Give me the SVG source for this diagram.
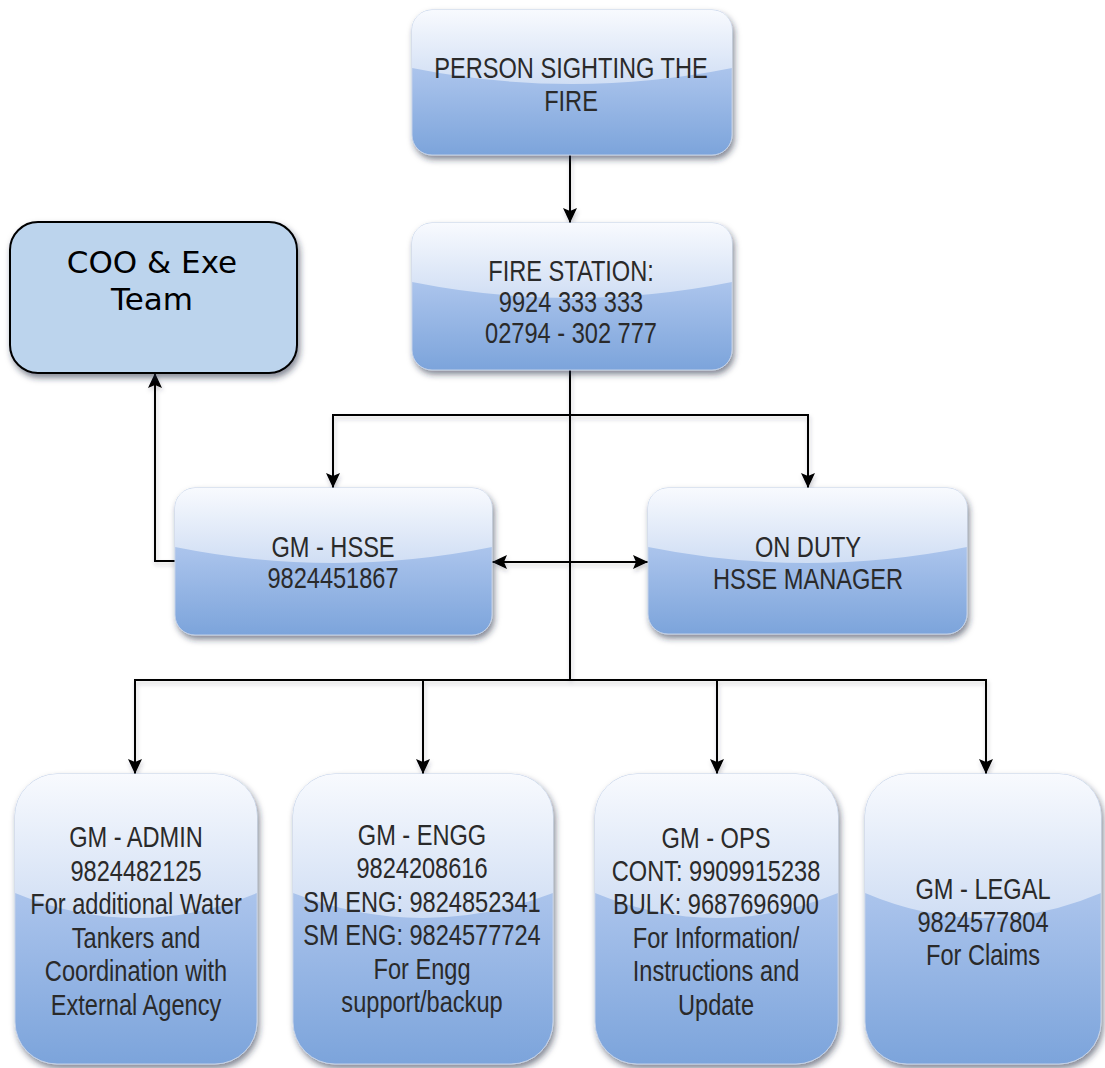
<svg xmlns="http://www.w3.org/2000/svg" width="1105" height="1068" viewBox="0 0 1105 1068">
  <defs>
    <style>
      .lbl { font-family: "Liberation Sans", Arial, sans-serif; font-size: 29.5px; fill: #2a2a2a; text-anchor: middle; }
      .coo { font-family: "DejaVu Sans", Verdana, sans-serif; font-size: 31px; fill: #000; text-anchor: middle; }
      .base { fill: url(#base); stroke: #c3d1e8; stroke-width: 1; filter: url(#shadow); }
      .gloss { fill: url(#gloss); }
      .wire { fill: none; stroke: #000; stroke-width: 2; }
      .arrow { marker-end: url(#head); }
    </style>
    <linearGradient id="base" x1="0" y1="0" x2="0" y2="1">
      <stop offset="0" stop-color="#c4d7f2"/>
      <stop offset="0.45" stop-color="#a8c2eb"/>
      <stop offset="1" stop-color="#7ca4db"/>
    </linearGradient>
    <linearGradient id="gloss" x1="0" y1="0" x2="0" y2="1">
      <stop offset="0" stop-color="#f8fafe"/>
      <stop offset="1" stop-color="#d0def4"/>
    </linearGradient>
    <filter id="shadow" x="-10%" y="-10%" width="125%" height="130%">
      <feDropShadow dx="2" dy="4" stdDeviation="3" flood-color="#1a2540" flood-opacity="0.55"/>
    </filter>
    <filter id="wireShadow" x="-5%" y="-5%" width="110%" height="120%">
      <feDropShadow dx="1" dy="3" stdDeviation="2" flood-color="#334" flood-opacity="0.25"/>
    </filter>
    <marker id="head" markerUnits="userSpaceOnUse" markerWidth="16" markerHeight="14" refX="15" refY="7" orient="auto">
      <path d="M0,0 L15,7 L0,14 L3,7 Z" fill="#000"/>
    </marker>
    <marker id="tail" markerUnits="userSpaceOnUse" markerWidth="16" markerHeight="14" refX="0" refY="7" orient="auto">
      <path d="M15,0 L0,7 L15,14 L12,7 Z" fill="#000"/>
    </marker>
  </defs>

  <rect width="1105" height="1068" fill="#fff"/>

  <!-- connectors -->
  <g id="connectors" filter="url(#wireShadow)">
    <path class="wire arrow" d="M570,155 V223"/>
    <path class="wire" d="M570,370 V680"/>
    <path class="wire arrow" d="M570,415 H333 V488"/>
    <path class="wire arrow" d="M570,415 H808 V488"/>
    <path class="wire" d="M492,562 H648" marker-start="url(#tail)" marker-end="url(#head)"/>
    <path class="wire arrow" d="M175,561 H155 V373"/>
    <path class="wire arrow" d="M570,680 H135 V774"/>
    <path class="wire arrow" d="M423,680 V774"/>
    <path class="wire arrow" d="M717,680 V774"/>
    <path class="wire arrow" d="M570,680 H986 V774"/>
  </g>

  <!-- top: person sighting the fire -->
  <g id="person">
    <rect class="base" x="412" y="10" width="320" height="145" rx="20"/>
    <path class="gloss" d="M412,30 A20,20 0 0 1 432,10 H712 A20,20 0 0 1 732,30 V68 Q572,100 412,68 Z"/>
    <text class="lbl" transform="translate(571 0) scale(0.8 1)"><tspan x="0" y="78">PERSON SIGHTING THE</tspan><tspan x="0" y="111">FIRE</tspan></text>
  </g>

  <!-- fire station -->
  <g id="fire-station">
    <rect class="base" x="412" y="223" width="320" height="147" rx="20"/>
    <path class="gloss" d="M412,243 A20,20 0 0 1 432,223 H712 A20,20 0 0 1 732,243 V282 Q572,314 412,282 Z"/>
    <text class="lbl" transform="translate(571 0) scale(0.8 1)"><tspan x="0" y="281">FIRE STATION:</tspan><tspan x="0" y="312">9924 333 333</tspan><tspan x="0" y="343">02794 - 302 777</tspan></text>
  </g>

  <!-- executive team -->
  <g id="coo">
    <rect x="10" y="222" width="287" height="151" rx="28" fill="#bcd4ed" stroke="#000" stroke-width="2" filter="url(#shadow)"/>
    <text class="coo"><tspan x="152" y="273">COO &amp; Exe</tspan><tspan x="152" y="310">Team</tspan></text>
  </g>

  <!-- GM HSSE -->
  <g id="gm-hsse">
    <rect class="base" x="175" y="488" width="317" height="147" rx="20"/>
    <path class="gloss" d="M175,508 A20,20 0 0 1 195,488 H472 A20,20 0 0 1 492,508 V547 Q333.5,579 175,547 Z"/>
    <text class="lbl" transform="translate(333 0) scale(0.8 1)"><tspan x="0" y="557">GM - HSSE</tspan><tspan x="0" y="588">9824451867</tspan></text>
  </g>

  <!-- on duty manager -->
  <g id="on-duty">
    <rect class="base" x="648" y="488" width="319" height="146" rx="20"/>
    <path class="gloss" d="M648,508 A20,20 0 0 1 668,488 H947 A20,20 0 0 1 967,508 V547 Q807.5,579 648,547 Z"/>
    <text class="lbl" transform="translate(808 0) scale(0.8 1)"><tspan x="0" y="557">ON DUTY</tspan><tspan x="0" y="589">HSSE MANAGER</tspan></text>
  </g>

  <!-- GM admin -->
  <g id="gm-admin">
    <rect class="base" x="15" y="774" width="242" height="290" rx="42"/>
    <path class="gloss" d="M15,816 A42,42 0 0 1 57,774 H215 A42,42 0 0 1 257,816 V893 Q136,943 15,893 Z"/>
    <text class="lbl" transform="translate(136 0) scale(0.8 1)"><tspan x="0" y="847">GM - ADMIN</tspan><tspan x="0" y="881">9824482125</tspan><tspan x="0" y="914">For additional Water</tspan><tspan x="0" y="948">Tankers and</tspan><tspan x="0" y="981">Coordination with</tspan><tspan x="0" y="1015">External Agency</tspan></text>
  </g>

  <!-- GM engineering -->
  <g id="gm-engg">
    <rect class="base" x="293" y="774" width="260" height="290" rx="42"/>
    <path class="gloss" d="M293,816 A42,42 0 0 1 335,774 H511 A42,42 0 0 1 553,816 V893 Q423,943 293,893 Z"/>
    <text class="lbl" transform="translate(422 0) scale(0.8 1)"><tspan x="0" y="845">GM - ENGG</tspan><tspan x="0" y="878">9824208616</tspan><tspan x="0" y="912">SM ENG: 9824852341</tspan><tspan x="0" y="945">SM ENG: 9824577724</tspan><tspan x="0" y="979">For Engg</tspan><tspan x="0" y="1012">support/backup</tspan></text>
  </g>

  <!-- GM operations -->
  <g id="gm-ops">
    <rect class="base" x="595" y="774" width="243" height="290" rx="42"/>
    <path class="gloss" d="M595,816 A42,42 0 0 1 637,774 H796 A42,42 0 0 1 838,816 V893 Q716.5,943 595,893 Z"/>
    <text class="lbl" transform="translate(716 0) scale(0.8 1)"><tspan x="0" y="848">GM - OPS</tspan><tspan x="0" y="881">CONT: 9909915238</tspan><tspan x="0" y="914">BULK: 9687696900</tspan><tspan x="0" y="948">For Information/</tspan><tspan x="0" y="981">Instructions and</tspan><tspan x="0" y="1015">Update</tspan></text>
  </g>

  <!-- GM legal -->
  <g id="gm-legal">
    <rect class="base" x="865" y="774" width="236" height="290" rx="42"/>
    <path class="gloss" d="M865,816 A42,42 0 0 1 907,774 H1059 A42,42 0 0 1 1101,816 V893 Q983,943 865,893 Z"/>
    <text class="lbl" transform="translate(983 0) scale(0.8 1)"><tspan x="0" y="899">GM - LEGAL</tspan><tspan x="0" y="932">9824577804</tspan><tspan x="0" y="965">For Claims</tspan></text>
  </g>
</svg>
